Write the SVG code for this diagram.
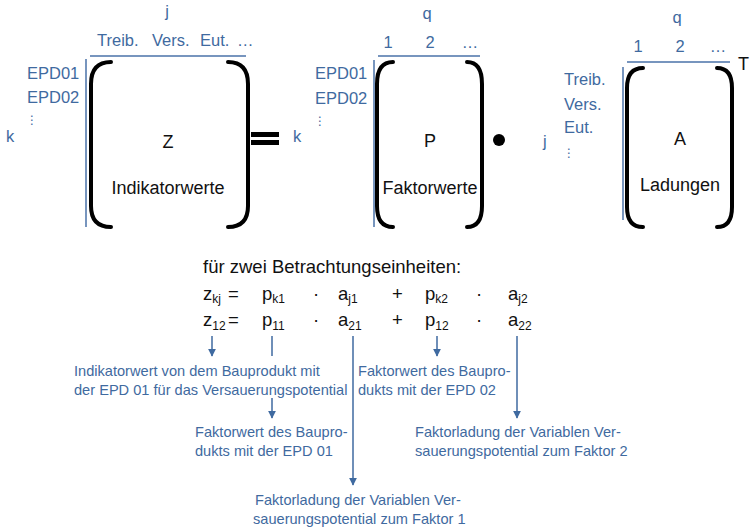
<svg xmlns="http://www.w3.org/2000/svg" width="750" height="532" viewBox="0 0 750 532">
<defs>
<style>
text{font-family:"Liberation Sans",Arial,sans-serif}
.lbl{fill:#3F6AA0;font-size:16.5px}
.ann{fill:#3F6AA0;font-size:14.6px}
.mt{fill:#111;font-size:18px}
.eq{fill:#111;font-size:18.5px}
.sub{font-size:12px}
.vd{fill:#3F6AA0;font-size:12px;font-family:"DejaVu Sans",sans-serif}
.br{fill:none;stroke:#000;stroke-width:4;stroke-linecap:round}
.ax{fill:none;stroke:#4A72A8;stroke-width:1.5}
.conn{fill:none;stroke:#3F6AA0;stroke-width:1.5}
</style>
<marker id="ah" viewBox="0 0 10 10" refX="9" refY="5" markerWidth="8" markerHeight="8" markerUnits="userSpaceOnUse" orient="auto">
<path d="M0,0 L10,5 L0,10 z" fill="#3F6AA0"/>
</marker>
</defs>
<rect width="750" height="532" fill="#fff"/>

<g id="matrixZ">
<line class="ax" x1="90" y1="56" x2="246" y2="56"/>
<line class="ax" x1="86" y1="59" x2="86" y2="227"/>
<path class="br" d="M111,62 Q91,62 91,84 L91,206 Q91,227 111,227"/>
<path class="br" d="M228,62 Q248,62 248,84 L248,206 Q248,227 228,227"/>
<text class="lbl" x="167" y="17" text-anchor="middle">j</text>
<text class="lbl" x="97" y="46">Treib.</text>
<text class="lbl" x="152" y="46">Vers.</text>
<text class="lbl" x="200" y="46">Eut.</text>
<text class="lbl" x="237" y="46">…</text>
<text class="lbl" x="27" y="79">EPD01</text>
<text class="lbl" x="27" y="103">EPD02</text>
<text class="vd" x="26" y="124">⋮</text>
<text class="lbl" x="6" y="142">k</text>
<text class="mt" x="168" y="148" text-anchor="middle">Z</text>
<text class="mt" x="168" y="194" text-anchor="middle">Indikatorwerte</text>
</g>

<g id="equals">
<rect x="251" y="132" width="28" height="5" fill="#000"/>
<rect x="251" y="140" width="28" height="5" fill="#000"/>
</g>

<g id="matrixP">
<line class="ax" x1="378" y1="56" x2="480" y2="56"/>
<line class="ax" x1="374" y1="60" x2="374" y2="227"/>
<path class="br" d="M393,62 Q377,62 377,84 L377,206 Q377,227 393,227"/>
<path class="br" d="M467,62 Q482,62 482,84 L482,206 Q482,227 467,227"/>
<text class="lbl" x="427" y="19" text-anchor="middle">q</text>
<text class="lbl" x="388" y="48" text-anchor="middle">1</text>
<text class="lbl" x="430" y="48" text-anchor="middle">2</text>
<text class="lbl" x="470" y="48" text-anchor="middle">…</text>
<text class="lbl" x="315" y="79">EPD01</text>
<text class="lbl" x="315" y="104">EPD02</text>
<text class="vd" x="314" y="125">⋮</text>
<text class="lbl" x="293" y="142">k</text>
<text class="mt" x="430" y="147" text-anchor="middle">P</text>
<text class="mt" x="430" y="194" text-anchor="middle">Faktorwerte</text>
</g>

<g id="dot">
<circle cx="499" cy="140" r="6" fill="#000"/>
</g>

<g id="matrixA">
<line class="ax" x1="627" y1="62" x2="730" y2="62"/>
<line class="ax" x1="623" y1="67" x2="623" y2="220"/>
<path class="br" d="M643,68 Q627,68 627,88 L627,207 Q627,227 643,227"/>
<path class="br" d="M717,68 Q732,68 732,88 L732,207 Q732,227 717,227"/>
<text class="lbl" x="677" y="23" text-anchor="middle">q</text>
<text class="lbl" x="638" y="52" text-anchor="middle">1</text>
<text class="lbl" x="680" y="52" text-anchor="middle">2</text>
<text class="lbl" x="718" y="52" text-anchor="middle">…</text>
<text class="mt" x="738" y="70" font-size="16px">T</text>
<text class="lbl" x="564" y="85">Treib.</text>
<text class="lbl" x="564" y="110">Vers.</text>
<text class="lbl" x="564" y="133">Eut.</text>
<text class="vd" x="563" y="157">⋮</text>
<text class="lbl" x="543" y="147">j</text>
<text class="mt" x="680" y="145" text-anchor="middle">A</text>
<text class="mt" x="680" y="191" text-anchor="middle">Ladungen</text>
</g>

<g id="equations">
<text class="eq" x="203" y="273">für zwei Betrachtungseinheiten:</text>
<text class="eq" x="203" y="300">z<tspan class="sub" dy="3">kj</tspan></text>
<text class="eq" x="228" y="300">=</text>
<text class="eq" x="262" y="300">p<tspan class="sub" dy="3">k1</tspan></text>
<text class="eq" x="313" y="300">·</text>
<text class="eq" x="338" y="300">a<tspan class="sub" dy="3">j1</tspan></text>
<text class="eq" x="392" y="300">+</text>
<text class="eq" x="425" y="300">p<tspan class="sub" dy="3">k2</tspan></text>
<text class="eq" x="476" y="300">·</text>
<text class="eq" x="508" y="300">a<tspan class="sub" dy="3">j2</tspan></text>
<text class="eq" x="203" y="326">z<tspan class="sub" dy="4" font-size="13px">12</tspan></text>
<text class="eq" x="228" y="326">=</text>
<text class="eq" x="262" y="326">p<tspan class="sub" dy="4" font-size="13px">11</tspan></text>
<text class="eq" x="313" y="326">·</text>
<text class="eq" x="338" y="326">a<tspan class="sub" dy="4" font-size="13px">21</tspan></text>
<text class="eq" x="392" y="326">+</text>
<text class="eq" x="425" y="326">p<tspan class="sub" dy="4" font-size="13px">12</tspan></text>
<text class="eq" x="476" y="326">·</text>
<text class="eq" x="508" y="326">a<tspan class="sub" dy="4" font-size="13px">22</tspan></text>
</g>

<g id="connectors">
<line class="conn" x1="212" y1="336" x2="212" y2="356" marker-end="url(#ah)"/>
<line class="conn" x1="272" y1="336" x2="272" y2="356"/>
<line class="conn" x1="272" y1="398" x2="272" y2="418" marker-end="url(#ah)"/>
<line class="conn" x1="353" y1="336" x2="353" y2="485" marker-end="url(#ah)"/>
<line class="conn" x1="437" y1="336" x2="437" y2="356" marker-end="url(#ah)"/>
<line class="conn" x1="517" y1="336" x2="517" y2="418" marker-end="url(#ah)"/>
</g>

<g id="note-indikatorwert">
<text class="ann" x="74" y="376">Indikatorwert von dem Bauprodukt mit</text>
<text class="ann" x="74" y="395">der EPD 01 für das Versauerungspotential</text>
</g>
<g id="note-faktorwert01">
<text class="ann" x="195" y="437">Faktorwert des Baupro-</text>
<text class="ann" x="195" y="456">dukts mit der EPD 01</text>
</g>
<g id="note-faktorwert02">
<text class="ann" x="358" y="376">Faktorwert des Baupro-</text>
<text class="ann" x="358" y="395">dukts mit der EPD 02</text>
</g>
<g id="note-ladung2">
<text class="ann" x="415" y="437">Faktorladung der Variablen Ver-</text>
<text class="ann" x="415" y="456">sauerungspotential zum Faktor 2</text>
</g>
<g id="note-ladung1">
<text class="ann" x="255" y="505">Faktorladung der Variablen Ver-</text>
<text class="ann" x="253" y="524">sauerungspotential zum Faktor 1</text>
</g>
</svg>
